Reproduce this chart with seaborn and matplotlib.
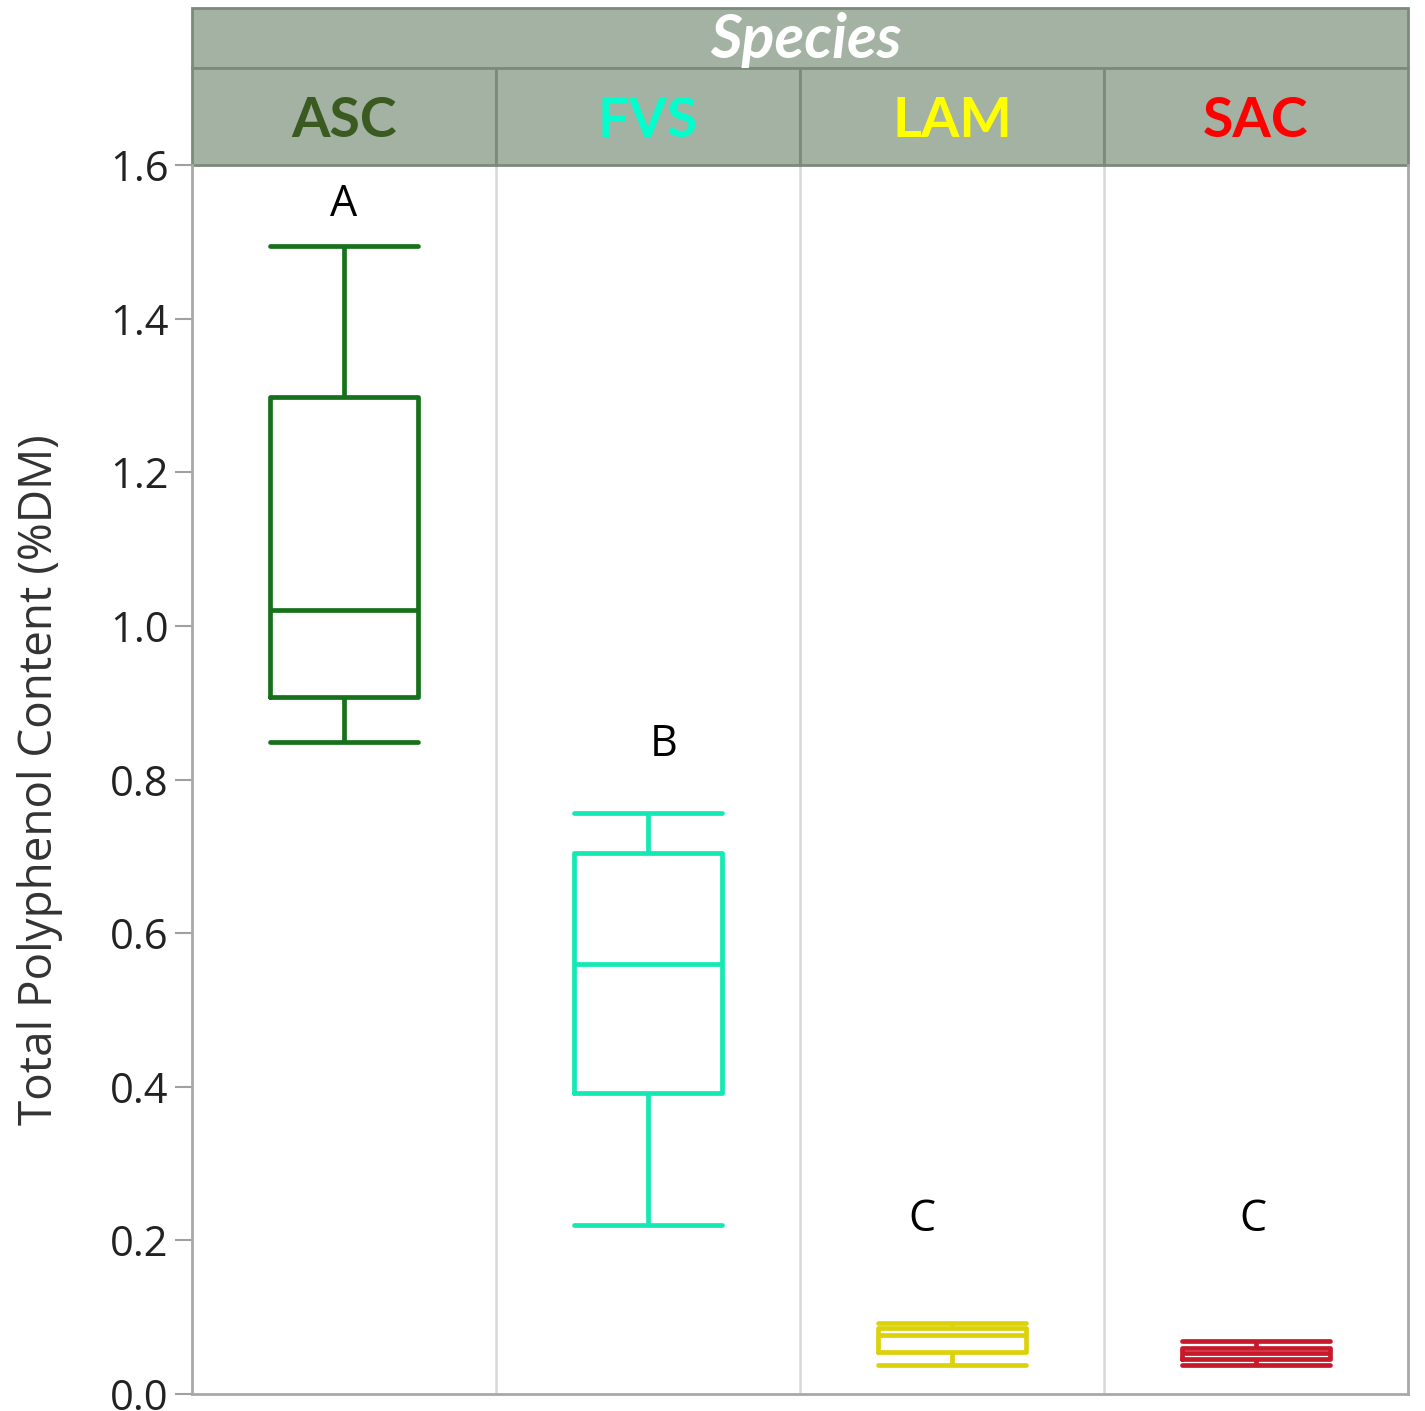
import numpy as np
import pandas as pd
import matplotlib
matplotlib.use("Agg")
import matplotlib.pyplot as plt
import matplotlib.transforms as mtransforms
from matplotlib.patches import Rectangle
import seaborn as sns

# five-number summaries (lower whisker, Q1, median, Q3, upper whisker)
species = ["ASC", "FVS", "LAM", "SAC"]
asc_vals = [0.849, 0.907, 1.021, 1.298, 1.495]
fvs_vals = [0.220, 0.392, 0.560, 0.704, 0.756]
lam_vals = [0.038, 0.055, 0.077, 0.086, 0.093]
sac_vals = [0.038, 0.046, 0.053, 0.060, 0.069]

box_colors = ["#17701c", "#14e8b4", "#dcd20a", "#c8192b"]
label_colors = ["#3a5a20", "#00ffcc", "#ffff00", "#ff0000"]

# significance letters and where they sit
letters = ["A", "B", "C", "C"]
letter_x = [0.0, 1.05, 1.90, 2.99]
letter_y = [1.548, 0.845, 0.227, 0.227]

df = pd.DataFrame({
    "Species": np.repeat(species, 5),
    "TPC": asc_vals + fvs_vals + lam_vals + sac_vals,
})

sns.set_style("white")
plt.rcParams["font.family"] = ["Open Sans", "DejaVu Sans"]

fig = plt.figure(figsize=(14.25, 14.11), dpi=100)
ax = fig.add_axes([192 / 1425, 17 / 1411, 1216 / 1425, 1229 / 1411])

sns.boxplot(
    data=df, x="Species", y="TPC", hue="Species", order=species,
    palette=dict(zip(species, box_colors)), fill=False, width=0.49,
    whis=np.inf, linewidth=3.4, legend=False, ax=ax, capwidths=0.49,
)

ax.set_xlim(-0.5, 3.5)
ax.set_ylim(0, 1.6)
ax.set_yticks(np.arange(0, 1.61, 0.2))
ax.set_yticklabels([f"{v:.1f}" for v in np.arange(0, 1.61, 0.2)])
ax.tick_params(axis="y", length=12, width=1.5, color="#a0a0a0", labelsize=30,
               labelcolor="#222222", left=True, pad=5)
ax.set_xticks([])
ax.set_xlabel("")
ax.set_ylabel("Total Polyphenol Content (%DM)", fontsize=33, color="#333333")
ax.yaxis.set_label_coords(-0.106, 0.5)

for s in ["left", "bottom", "right"]:
    ax.spines[s].set_color("#a8a8a8")
    ax.spines[s].set_linewidth(2)
ax.spines["top"].set_visible(False)

for xb in [0.5, 1.5, 2.5]:
    ax.axvline(xb, color="#d8d8d8", lw=1.8, zorder=0)

for lx, ly, t in zip(letter_x, letter_y, letters):
    ax.text(lx, ly, t, ha="center", va="center", fontsize=31, color="black")

# header strip like a faceted chart
trans = mtransforms.blended_transform_factory(ax.transData, ax.transAxes)
hdr_fill = "#a3b2a3"
hdr_edge = "#7c8a7c"
row_top = 1 + 97 / 1229
band_top = 1 + 157 / 1229
ax.add_patch(Rectangle((-0.5, row_top), 4.0, band_top - row_top, transform=trans,
                       facecolor=hdr_fill, edgecolor=hdr_edge, lw=2, clip_on=False))
ax.text(1.52, (row_top + band_top) / 2 - 0.002, "Species", transform=trans, ha="center",
        va="center", fontsize=44, fontweight="bold", style="italic", color="white",
        family="Lato")
for i, sp in enumerate(species):
    ax.add_patch(Rectangle((i - 0.5, 1.0), 1.0, row_top - 1.0, transform=trans,
                           facecolor=hdr_fill, edgecolor=hdr_edge, lw=2, clip_on=False))
    ax.text(i, (1.0 + row_top) / 2 - 0.004, sp, transform=trans, ha="center", va="center",
            fontsize=40, fontweight="bold", color=label_colors[i], family="Lato")

fig.savefig("out.png", dpi=100)
